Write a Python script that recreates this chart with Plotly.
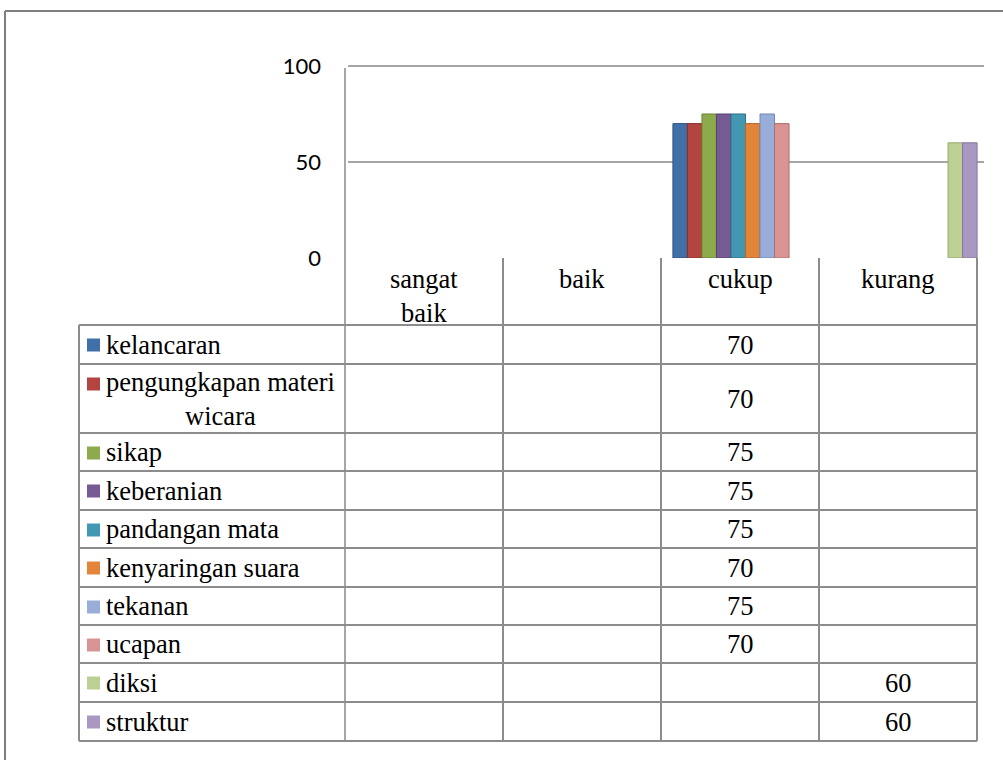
import plotly.graph_objects as go

# ---------------- data ----------------
categories = ["sangat baik", "baik", "cukup", "kurang"]
category_labels = ["sangat<br>baik", "baik", "cukup", "kurang"]

series_names = ["kelancaran", "pengungkapan materi wicara", "sikap", "keberanian",
                "pandangan mata", "kenyaringan suara", "tekanan", "ucapan",
                "diksi", "struktur"]
series_labels = ["kelancaran", "pengungkapan materi<br>wicara", "sikap", "keberanian",
                 "pandangan mata", "kenyaringan suara", "tekanan", "ucapan",
                 "diksi", "struktur"]

kelancaran = [None, None, 70, None]
pengungkapan = [None, None, 70, None]
sikap = [None, None, 75, None]
keberanian = [None, None, 75, None]
pandangan = [None, None, 75, None]
kenyaringan = [None, None, 70, None]
tekanan = [None, None, 75, None]
ucapan = [None, None, 70, None]
diksi = [None, None, None, 60]
struktur = [None, None, None, 60]
values = [kelancaran, pengungkapan, sikap, keberanian, pandangan,
          kenyaringan, tekanan, ucapan, diksi, struktur]

y_ticks = [0, 50, 100]

colors = ["#4170A9", "#B3443F", "#8DAA4D", "#765A94", "#4298B3",
          "#E2853A", "#98AED9", "#D89492", "#BDD093", "#A999C2"]
side_colors = ["#2F5583", "#8A302C", "#6B8536", "#574270", "#2E7389",
               "#B5652A", "#7189B5", "#B06F6D", "#97A86D", "#85779E"]

# ---------------- layout helpers ----------------
W, H = 1003, 760
def px(x):
    return x / W
def py(y):
    return 1 - y / H

SERIF = "Liberation Serif"
GRID = "#A6A6A6"
TABLE = "#8C8C8C"
FS = 26.5

col_edges = [79, 345, 503, 661, 819, 977]
row_edges = [325, 364, 433, 471, 510, 548, 587, 625, 663, 702, 741]
y_zero_px = 258
y_max = 100.6
y_top_px = 258 - 1.92 * y_max
frame_top = 11

fig = go.Figure()
for name, vals, c, sc in zip(series_names, values, colors, side_colors):
    fig.add_trace(go.Bar(
        x=categories, y=vals, name=name,
        marker=dict(color=c, line=dict(color=sc, width=1)),
        showlegend=False,
    ))

shapes = []
annotations = []

def line(x0, y0, x1, y1, color=TABLE, width=2):
    shapes.append(dict(type="line", xref="paper", yref="paper",
                       x0=px(x0), y0=py(y0), x1=px(x1), y1=py(y1),
                       line=dict(color=color, width=width), layer="above"))

# outer frame (top and left edges visible)
line(5, frame_top, W + 5, frame_top, color="#7F7F7F")
line(5, frame_top, 5, H + 5, color="#7F7F7F")

# value axis line (continues as table column boundary)
line(345, 68, 345, row_edges[-1], color=GRID)
# header row category separators
for x in col_edges[2:]:
    line(x, y_zero_px, x, row_edges[-1])
line(col_edges[0], row_edges[0], col_edges[0], row_edges[-1])
# horizontal table lines
for y in row_edges:
    line(col_edges[0], y, col_edges[-1], y)

# header labels
for j, lab in enumerate(category_labels):
    cx = (col_edges[j + 1] + col_edges[j + 2]) / 2
    annotations.append(dict(xref="paper", yref="paper", x=px(cx), y=py(262),
                            xanchor="center", yanchor="top", text=lab,
                            showarrow=False, align="center",
                            font=dict(family=SERIF, size=FS, color="black")))

# series rows: legend key, label, values
for i, (lab, vals, c) in enumerate(zip(series_labels, values, colors)):
    top, bot = row_edges[i], row_edges[i + 1]
    mid = (top + bot) / 2
    first = top + 20
    shapes.append(dict(type="rect", xref="paper", yref="paper",
                       x0=px(87), x1=px(100), y0=py(first - 6.5), y1=py(first + 6.5),
                       fillcolor=c, line=dict(width=0)))
    annotations.append(dict(xref="paper", yref="paper", x=px(104), y=py(mid),
                            xanchor="left", yanchor="middle", text=lab,
                            showarrow=False, align="center",
                            font=dict(family=SERIF, size=FS, color="black")))
    for j, v in enumerate(vals):
        if v is None:
            continue
        cx = (col_edges[j + 1] + col_edges[j + 2]) / 2
        annotations.append(dict(xref="paper", yref="paper", x=px(cx), y=py(mid),
                                xanchor="center", yanchor="middle", text=str(v),
                                showarrow=False,
                                font=dict(family=SERIF, size=FS, color="black")))

fig.update_layout(
    width=W, height=H,
    margin=dict(l=0, r=0, t=0, b=0, pad=0, autoexpand=False),
    paper_bgcolor="white", plot_bgcolor="white",
    barmode="group", bargap=0.087, bargroupgap=0,
    xaxis=dict(domain=[px(348), px(984)], categoryorder="array",
               categoryarray=categories, range=[-0.5, 3.5],
               showticklabels=False, showgrid=False, zeroline=False,
               showline=False, ticks="", automargin=False),
    yaxis=dict(domain=[py(y_zero_px), py(y_top_px)], range=[0, y_max],
               tickvals=y_ticks, ticktext=[str(t) for t in y_ticks],
               showgrid=True, gridcolor=GRID, gridwidth=2,
               zeroline=False, showline=False, ticks="",
               ticklabelstandoff=26, automargin=False,
               tickfont=dict(family="Lato", size=22, color="black")),
    shapes=shapes, annotations=annotations,
)

fig.write_html("out.html")
